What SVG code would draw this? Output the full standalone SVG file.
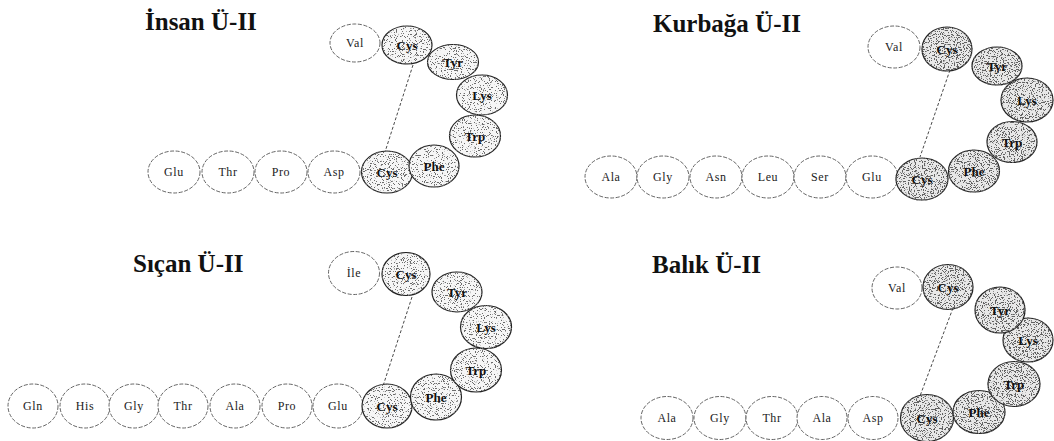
<svg xmlns="http://www.w3.org/2000/svg" width="1054" height="441" viewBox="0 0 1054 441">
  <style>
    .title { font-family: "Liberation Serif", "Times New Roman", serif; font-weight: bold; font-size: 25px; fill: #111; }
    .plain ellipse { fill: #fff; stroke: #555; stroke-width: 0.9; stroke-dasharray: 4 1.6; }
    .plain text { font-family: "Liberation Serif", "Times New Roman", serif; font-size: 12px; fill: #222; text-anchor: middle; letter-spacing: 0.6px; }
    .ring ellipse { stroke: #222; stroke-width: 1.2; }
    .light ellipse { fill: #f6f6f6; filter: url(#grainLight); }
    .dark ellipse { fill: #e8e8e8; filter: url(#grainDark); }
    .ring text { font-family: "Liberation Serif", "Times New Roman", serif; font-weight: bold; font-size: 13px; fill: #111; text-anchor: middle; }
    .bond { stroke: #333; stroke-width: 0.9; stroke-dasharray: 3 2; fill: none; }
  </style>
  <defs>
    <!-- stippled fill for the sulfur-bridged ring residues -->
    <filter id="grainLight" x="-5%" y="-5%" width="110%" height="110%">
      <feTurbulence type="fractalNoise" baseFrequency="0.85" numOctaves="2" seed="7" result="noise"/>
      <feColorMatrix in="noise" type="matrix" values="0 0 0 0 0.15  0 0 0 0 0.15  0 0 0 0 0.15  -20 0 0 0 8.1" result="dots"/>
      <feComposite in="dots" in2="SourceAlpha" operator="in" result="clipped"/>
      <feMerge><feMergeNode in="SourceGraphic"/><feMergeNode in="clipped"/></feMerge>
    </filter>
    <filter id="grainDark" x="-5%" y="-5%" width="110%" height="110%">
      <feTurbulence type="fractalNoise" baseFrequency="0.85" numOctaves="2" seed="11" result="noise"/>
      <feColorMatrix in="noise" type="matrix" values="0 0 0 0 0.12  0 0 0 0 0.12  0 0 0 0 0.12  -20 0 0 0 8.9" result="dots"/>
      <feComposite in="dots" in2="SourceAlpha" operator="in" result="clipped"/>
      <feMerge><feMergeNode in="SourceGraphic"/><feMergeNode in="clipped"/></feMerge>
    </filter>
  </defs>

  <!-- disulfide bridges between the two cysteines -->
  <g id="connectors">
    <line class="bond" x1="413" y1="65" x2="385" y2="152"/>
    <line class="bond" x1="950" y1="70" x2="920" y2="157"/>
    <line class="bond" x1="412" y1="297" x2="383" y2="386"/>
    <line class="bond" x1="953" y1="308" x2="920" y2="396"/>
  </g>

  <!-- Human -->
  <g id="insan">
    <text class="title" x="145" y="30">İnsan Ü-II</text>
    <g class="plain">
      <g id="insan-glu"><ellipse cx="174" cy="172" rx="26" ry="21"/><text x="174" y="176">Glu</text></g>
      <g id="insan-thr"><ellipse cx="228" cy="172" rx="26" ry="21"/><text x="228" y="176">Thr</text></g>
      <g id="insan-pro"><ellipse cx="281" cy="172" rx="26" ry="21"/><text x="281" y="176">Pro</text></g>
      <g id="insan-asp"><ellipse cx="334" cy="172" rx="26" ry="21"/><text x="334" y="176">Asp</text></g>
      <g id="insan-val"><ellipse cx="355" cy="43" rx="25" ry="19"/><text x="355" y="47">Val</text></g>
    </g>
    <g class="ring light">
      <g id="insan-cys2"><ellipse cx="387" cy="172" rx="25.5" ry="21"/><text x="387" y="177">Cys</text></g>
      <g id="insan-phe"><ellipse cx="434" cy="166" rx="25" ry="21"/><text x="434" y="171">Phe</text></g>
      <g id="insan-trp"><ellipse cx="475" cy="136" rx="25.5" ry="21"/><text x="475" y="141">Trp</text></g>
      <g id="insan-lys"><ellipse cx="482" cy="95" rx="25.5" ry="20"/><text x="482" y="100">Lys</text></g>
      <g id="insan-tyr"><ellipse cx="453" cy="62" rx="25.5" ry="17.5"/><text x="453" y="67">Tyr</text></g>
      <g id="insan-cys1"><ellipse cx="407" cy="45" rx="25" ry="19"/><text x="407" y="50">Cys</text></g>
    </g>
  </g>

  <!-- Frog -->
  <g id="kurbaga">
    <text class="title" x="653" y="32">Kurbağa Ü-II</text>
    <g class="plain">
      <g id="kurbaga-ala"><ellipse cx="611" cy="177" rx="26" ry="21"/><text x="611" y="181">Ala</text></g>
      <g id="kurbaga-gly"><ellipse cx="663" cy="177" rx="26" ry="21"/><text x="663" y="181">Gly</text></g>
      <g id="kurbaga-asn"><ellipse cx="716" cy="177" rx="26" ry="21"/><text x="716" y="181">Asn</text></g>
      <g id="kurbaga-leu"><ellipse cx="768" cy="177" rx="26" ry="21"/><text x="768" y="181">Leu</text></g>
      <g id="kurbaga-ser"><ellipse cx="820" cy="177" rx="26" ry="21"/><text x="820" y="181">Ser</text></g>
      <g id="kurbaga-glu"><ellipse cx="872" cy="177" rx="26" ry="21"/><text x="872" y="181">Glu</text></g>
      <g id="kurbaga-val"><ellipse cx="894" cy="47" rx="26" ry="21"/><text x="894" y="51">Val</text></g>
    </g>
    <g class="ring dark">
      <g id="kurbaga-cys2"><ellipse cx="922" cy="179" rx="26" ry="21"/><text x="922" y="184">Cys</text></g>
      <g id="kurbaga-phe"><ellipse cx="974" cy="171" rx="25.5" ry="21"/><text x="974" y="176">Phe</text></g>
      <g id="kurbaga-trp"><ellipse cx="1012" cy="142" rx="25" ry="20.5"/><text x="1012" y="147">Trp</text></g>
      <g id="kurbaga-lys"><ellipse cx="1027" cy="100" rx="26" ry="22"/><text x="1027" y="105">Lys</text></g>
      <g id="kurbaga-tyr"><ellipse cx="997" cy="66" rx="25" ry="19"/><text x="997" y="71">Tyr</text></g>
      <g id="kurbaga-cys1"><ellipse cx="947" cy="49" rx="25" ry="22"/><text x="947" y="54">Cys</text></g>
    </g>
  </g>

  <!-- Rat -->
  <g id="sican">
    <text class="title" x="133" y="272">Sıçan Ü-II</text>
    <g class="plain">
      <g id="sican-gln"><ellipse cx="33" cy="406" rx="25" ry="22"/><text x="33" y="410">Gln</text></g>
      <g id="sican-his"><ellipse cx="85" cy="406" rx="25" ry="22"/><text x="85" y="410">His</text></g>
      <g id="sican-gly"><ellipse cx="134" cy="406" rx="25" ry="22"/><text x="134" y="410">Gly</text></g>
      <g id="sican-thr"><ellipse cx="183" cy="406" rx="25" ry="22"/><text x="183" y="410">Thr</text></g>
      <g id="sican-ala"><ellipse cx="235" cy="406" rx="25" ry="22"/><text x="235" y="410">Ala</text></g>
      <g id="sican-pro"><ellipse cx="287" cy="406" rx="25" ry="22"/><text x="287" y="410">Pro</text></g>
      <g id="sican-glu"><ellipse cx="338" cy="406" rx="25" ry="22"/><text x="338" y="410">Glu</text></g>
      <g id="sican-ile"><ellipse cx="354" cy="273" rx="25.5" ry="21.5"/><text x="354" y="277">İle</text></g>
    </g>
    <g class="ring light">
      <g id="sican-cys2"><ellipse cx="387" cy="406" rx="25" ry="22"/><text x="387" y="411">Cys</text></g>
      <g id="sican-phe"><ellipse cx="436" cy="397" rx="25.5" ry="23"/><text x="436" y="402">Phe</text></g>
      <g id="sican-trp"><ellipse cx="476" cy="370" rx="25.5" ry="22"/><text x="476" y="375">Trp</text></g>
      <g id="sican-lys"><ellipse cx="486" cy="327" rx="25.5" ry="21.5"/><text x="486" y="332">Lys</text></g>
      <g id="sican-tyr"><ellipse cx="457" cy="292" rx="25" ry="20"/><text x="457" y="297">Tyr</text></g>
      <g id="sican-cys1"><ellipse cx="406" cy="274" rx="24" ry="21.5"/><text x="406" y="279">Cys</text></g>
    </g>
  </g>

  <!-- Fish -->
  <g id="balik">
    <text class="title" x="652" y="273">Balık Ü-II</text>
    <g class="plain">
      <g id="balik-ala1"><ellipse cx="667" cy="418" rx="26" ry="21.5"/><text x="667" y="422">Ala</text></g>
      <g id="balik-gly"><ellipse cx="720" cy="418" rx="26" ry="21.5"/><text x="720" y="422">Gly</text></g>
      <g id="balik-thr"><ellipse cx="772" cy="418" rx="26" ry="21.5"/><text x="772" y="422">Thr</text></g>
      <g id="balik-ala2"><ellipse cx="822" cy="418" rx="25" ry="21.5"/><text x="822" y="422">Ala</text></g>
      <g id="balik-asp"><ellipse cx="873" cy="418" rx="25" ry="21.5"/><text x="873" y="422">Asp</text></g>
      <g id="balik-val"><ellipse cx="897" cy="288" rx="25" ry="21"/><text x="897" y="292">Val</text></g>
    </g>
    <g class="ring dark">
      <g id="balik-cys2"><ellipse cx="927" cy="418" rx="26.5" ry="23.5"/><text x="927" y="423">Cys</text></g>
      <g id="balik-phe"><ellipse cx="979" cy="412" rx="26" ry="21.5"/><text x="979" y="417">Phe</text></g>
      <g id="balik-trp"><ellipse cx="1014" cy="384" rx="26" ry="22.5"/><text x="1014" y="389">Trp</text></g>
      <g id="balik-lys"><ellipse cx="1028" cy="340" rx="25" ry="22"/><text x="1028" y="345">Lys</text></g>
      <g id="balik-tyr"><ellipse cx="1000" cy="310" rx="25" ry="23"/><text x="1000" y="315">Tyr</text></g>
      <g id="balik-cys1"><ellipse cx="948" cy="287" rx="25" ry="22.5"/><text x="948" y="292">Cys</text></g>
    </g>
  </g>
</svg>
